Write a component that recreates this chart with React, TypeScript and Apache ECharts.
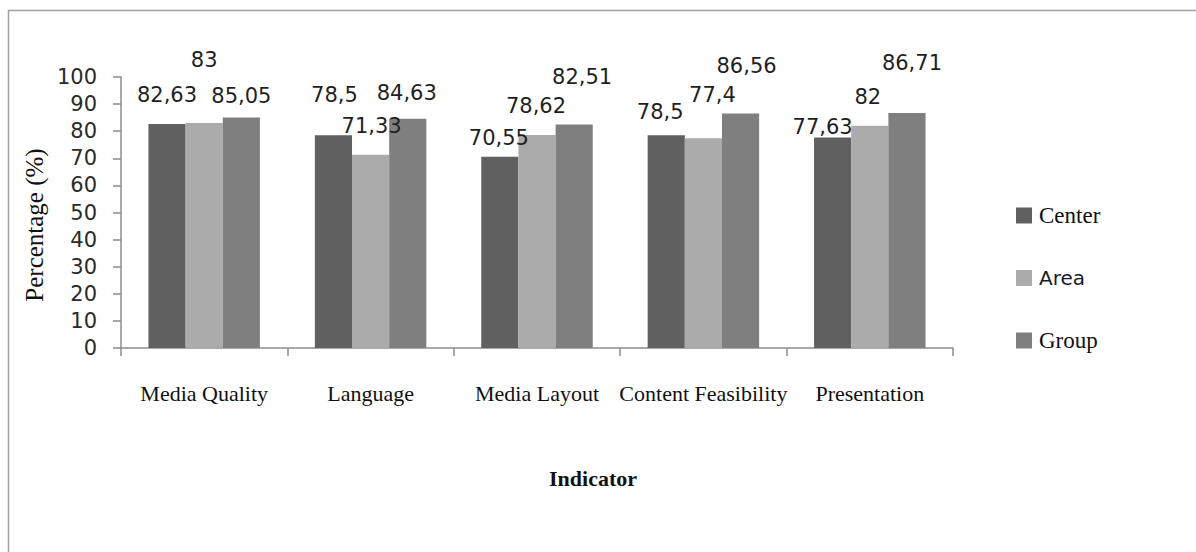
import React, { useEffect, useRef } from "react";
import * as echarts from "echarts";

// Indicators on the category axis
const categories = ["Media Quality", "Language", "Media Layout", "Content Feasibility", "Presentation"];

// Percentages per level
const centerValues = [82.63, 78.5, 70.55, 78.5, 77.63];
const areaValues = [83, 71.33, 78.62, 77.4, 82];
const groupValues = [85.05, 84.63, 82.51, 86.56, 86.71];

const yTicks = [0, 10, 20, 30, 40, 50, 60, 70, 80, 90, 100];

// Label placement: [horizontal shift, height of label centre above the bar top] in px
const centerNudge = [[0, 29], [1, 40], [-1, 19], [-6, 23], [-10, 11]];
const areaNudge = [[0, 63], [1, 29], [-1, 29], [9, 43], [-2, 29]];
const groupNudge = [[0, 22], [-1, 26], [8, 47], [6, 47], [5, 50]];

const SANS = "'DejaVu Sans', Verdana, sans-serif";
const SERIF = "'Liberation Serif', 'Times New Roman', serif";
const LABEL_LH = 20;

const withLabels = (values: number[], nudge: number[][]) =>
  values.map((v, i) => ({
    value: v,
    label: { offset: [nudge[i][0], -(nudge[i][1] - LABEL_LH / 2)] },
  }));

const fmt = (v: number) => String(v).replace(".", ",");

export default function App() {
  const ref = useRef<HTMLDivElement>(null);

  useEffect(() => {
    if (!ref.current) return;
    const chart = echarts.init(ref.current, undefined, { renderer: "svg" });

    const barLabel = {
      show: true,
      position: "top",
      distance: 0,
      fontFamily: SANS,
      fontSize: 21,
      lineHeight: LABEL_LH,
      color: "#1f1f1f",
      formatter: (p: any) => fmt(p.value),
    };

    const makeSeries = (name: string, values: number[], nudge: number[][], color: string) => ({
      name,
      type: "bar",
      data: withLabels(values, nudge),
      barGap: "0%",
      barCategoryGap: "33%",
      itemStyle: { color },
      label: barLabel,
    });

    chart.setOption({
      animation: false,
      backgroundColor: "#ffffff",
      grid: { left: 121, right: 243, top: 77, bottom: 204, containLabel: false },
      legend: {
        orient: "vertical",
        left: 1016,
        top: 204,
        padding: 0,
        itemWidth: 16,
        itemHeight: 16,
        itemGap: 41,
        icon: "rect",
        data: ["Center", "Area", "Group"],
        formatter: (name: string) => (name === "Area" ? `{sans|${name}}` : `{serif|${name}}`),
        textStyle: {
          padding: [0, 0, 0, 2],
          rich: {
            serif: { fontFamily: SERIF, fontSize: 23, color: "#111", lineHeight: 22 },
            sans: { fontFamily: SANS, fontSize: 20, color: "#1a1a2a", lineHeight: 22 },
          },
        },
      },
      xAxis: {
        type: "category",
        data: categories,
        axisLine: { lineStyle: { color: "#8c8c8c", width: 1.5 } },
        axisTick: { show: true, length: 8, lineStyle: { color: "#8c8c8c", width: 1.5 } },
        axisLabel: {
          fontFamily: SERIF,
          fontSize: 22,
          color: "#111",
          margin: 34,
          interval: 0,
        },
      },
      yAxis: {
        type: "value",
        min: yTicks[0],
        max: yTicks[yTicks.length - 1],
        interval: yTicks[1] - yTicks[0],
        axisLine: { show: true, lineStyle: { color: "#8c8c8c", width: 1.5 } },
        axisTick: { show: true, length: 8, lineStyle: { color: "#8c8c8c", width: 1.5 } },
        splitLine: { show: false },
        axisLabel: {
          fontFamily: SANS,
          fontSize: 21,
          color: "#2a2a2a",
          margin: 24,
        },
      },
      series: [
        makeSeries("Center", centerValues, centerNudge, "#606060"),
        makeSeries("Area", areaValues, areaNudge, "#ababab"),
        makeSeries("Group", groupValues, groupNudge, "#7f7f7f"),
      ],
      graphic: [
        {
          type: "rect",
          shape: { x: 8.5, y: 10.5, width: 1200, height: 600 },
          style: { fill: "none", stroke: "#a0a0a0", lineWidth: 1.5 },
          silent: true,
          z: -1,
        },
        {
          type: "text",
          x: 34,
          y: 225,
          rotation: Math.PI / 2,
          style: {
            text: "Percentage (%)",
            fontFamily: SERIF,
            fontSize: 25,
            fill: "#111",
            textAlign: "center",
            textVerticalAlign: "middle",
          },
        },
        {
          type: "text",
          x: 593,
          y: 478,
          style: {
            text: "Indicator",
            fontFamily: SERIF,
            fontSize: 22,
            fontWeight: "bold",
            fill: "#111",
            textAlign: "center",
            textVerticalAlign: "middle",
          },
        },
      ],
    });

    return () => chart.dispose();
  }, []);

  return (
    <div
      ref={ref}
      style={{ position: "absolute", left: 0, top: 0, width: 1196, height: 552 }}
    />
  );
}
